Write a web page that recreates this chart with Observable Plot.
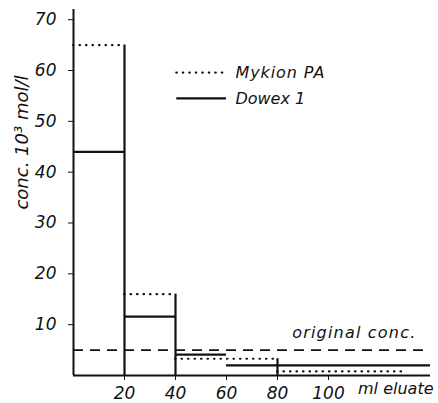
<!DOCTYPE html>
<html>
<head>
<meta charset="utf-8">
<script src="https://cdn.jsdelivr.net/npm/d3@7"></script>
<script src="https://cdn.jsdelivr.net/npm/@observablehq/plot@0.6"></script>
<style>
  html, body { margin: 0; padding: 0; background: #fff; }
  svg { font-family: "DejaVu Sans", sans-serif; font-style: italic; }
</style>
</head>
<body>
<div id="chart"></div>
<script>
// ---- data ----
const mykionEdges = [0, 20, 40, 80, 130];
const mykionConc  = [65, 16, 3.3, 0.8];
const dowexEdges  = [0, 20, 40, 60, 140];
const dowexConc   = [44, 11.6, 4.1, 2.0];
const originalConc = 5;
const xTicks = [20, 40, 60, 80, 100];
const yTicks = [10, 20, 30, 40, 50, 60, 70];
const seriesNames = ["Mykion PA", "Dowex 1"];

// ---- build tables ----
function bins(edges, vals, name) {
  return vals.map((v, i) => ({x1: edges[i], x2: edges[i + 1], y: v, series: name}));
}
const mykion = bins(mykionEdges, mykionConc, seriesNames[0]);
const dowex = bins(dowexEdges, dowexConc, seriesNames[1]);
const walls = mykionEdges.slice(1, -1).map((e, i) => ({x: e, y: Math.max(mykionConc[i], mykionConc[i + 1])}));

const dotted = {stroke: "#111", strokeWidth: 2.2, strokeDasharray: "0.5,6", strokeLinecap: "round"};
const solid = {stroke: "#111", strokeWidth: 2.2};

// legend layout (data units)
const legend = [
  {name: seriesNames[0], y: 59.6, style: dotted},
  {name: seriesNames[1], y: 54.5, style: solid}
];

const chart = Plot.plot({
  width: 438,
  height: 403,
  marginLeft: 73,
  marginRight: 8,
  marginTop: 9,
  marginBottom: 28,
  style: {fontFamily: "'DejaVu Sans', sans-serif", fontStyle: "italic", fontSize: "16px", color: "#111", background: "#fff"},
  x: {domain: [0, 140]},
  y: {domain: [0, 72]},
  marks: [
    Plot.axisX({ticks: xTicks, tickSize: 5, tickPadding: 6, label: null, fontSize: 17}),
    Plot.axisY({ticks: yTicks, tickSize: 5, tickPadding: 12, label: null, fontSize: 17}),
    Plot.ruleX([0], {stroke: "#111", strokeWidth: 2}),
    Plot.ruleY([0], {stroke: "#111", strokeWidth: 2}),
    // original concentration
    Plot.ruleY([originalConc], {x1: 0, x2: 140, stroke: "#111", strokeWidth: 1.8, strokeDasharray: "10,7"}),
    Plot.text(["original conc."], {x: 134.5, y: originalConc + 3.3, textAnchor: "end", fontSize: 16}),
    // bin walls
    Plot.ruleX(walls, {x: "x", y1: 0, y2: "y", ...solid}),
    // series tops
    Plot.ruleY(mykion, {x1: "x1", x2: "x2", y: "y", ...dotted}),
    Plot.ruleY(dowex, {x1: "x1", x2: "x2", y: "y", ...solid}),
    // legend
    ...legend.map(d => Plot.ruleY([d.y], {x1: 40.5, x2: 60, ...d.style})),
    Plot.text(legend, {x: 63.5, y: "y", text: "name", textAnchor: "start", fontSize: 16}),
    // axis titles
    Plot.text(["ml eluate"], {frameAnchor: "bottom-right", dy: 18, dx: 3, textAnchor: "end", fontSize: 16}),
    Plot.text(["conc. 10³ mol/l"], {frameAnchor: "left", dx: -51, dy: -50, rotate: -90, textAnchor: "middle", fontSize: 18})
  ]
});
// wider technical lettering
d3.select(chart).selectAll("text").each(function() {
  const t = this.textContent;
  if (t === "original conc.") d3.select(this).style("letter-spacing", "1.2px");
  if (t === "Mykion PA") d3.select(this).style("letter-spacing", "0.9px");
});
document.getElementById("chart").appendChild(chart);
</script>
</body>
</html>
